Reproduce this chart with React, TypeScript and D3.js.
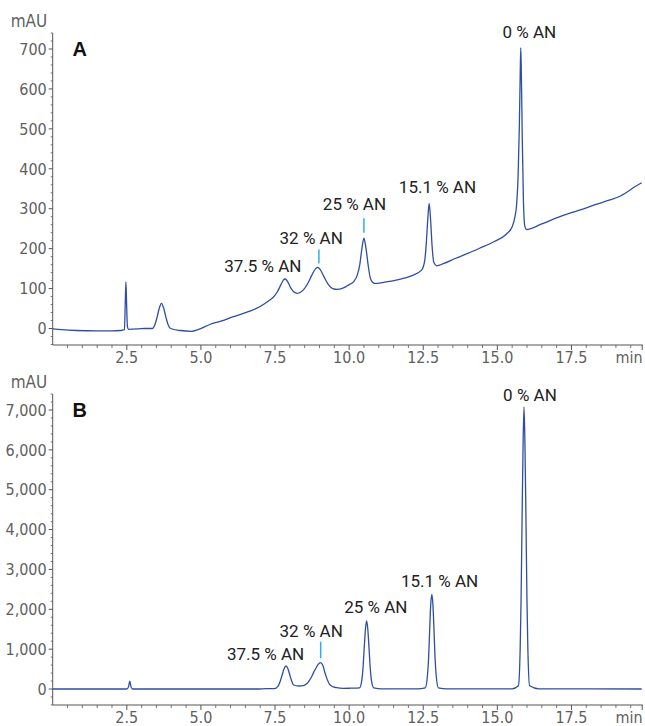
import React from "react";
import * as d3 from "d3";

// ---------- DATA ----------
// Panel A chromatogram: [time (min), absorbance (mAU)]
const traceA: [number, number][] = [
  [0.0, -1], [0.3, -3], [0.8, -5], [1.5, -6], [2.0, -6], [2.3, -5], [2.42, -3],
  [2.45, 70], [2.47, 117], [2.49, 70], [2.52, 5], [2.56, -2], [2.9, -1], [3.1, 0],
  [3.36, 0], [3.45, 10], [3.52, 28], [3.6, 52], [3.67, 63], [3.74, 52], [3.82, 28],
  [3.89, 10], [3.98, 0], [4.3, -5], [4.68, -7], [4.9, -3], [5.3, 10], [5.7, 19],
  [6.1, 30], [6.6, 42], [7.0, 55], [7.3, 70], [7.45, 79], [7.58, 92], [7.7, 110],
  [7.78, 121], [7.84, 124], [7.92, 118], [8.02, 103], [8.13, 92], [8.25, 88],
  [8.45, 96], [8.6, 112], [8.75, 135], [8.87, 150], [8.94, 153], [9.02, 148],
  [9.15, 130], [9.3, 110], [9.45, 100], [9.6, 98], [9.85, 103], [10.0, 110],
  [10.15, 117], [10.28, 135], [10.36, 160], [10.43, 200], [10.5, 226], [10.57, 200],
  [10.64, 160], [10.72, 125], [10.85, 113], [11.2, 116], [11.7, 123], [12.1, 132],
  [12.45, 147], [12.55, 170], [12.6, 210], [12.65, 270], [12.7, 313], [12.75, 270],
  [12.8, 205], [12.86, 165], [12.95, 157], [13.2, 163], [13.6, 176], [14.0, 188],
  [14.4, 201], [14.9, 218], [15.3, 236], [15.5, 255], [15.6, 282], [15.65, 310],
  [15.7, 380], [15.74, 500], [15.77, 630], [15.79, 703], [15.81, 640], [15.84, 480],
  [15.88, 320], [15.93, 255], [15.98, 248], [16.5, 262], [17.0, 277], [17.5, 290],
  [17.8, 297], [18.3, 310], [18.8, 322], [19.1, 330], [19.4, 343], [19.6, 353],
  [19.87, 365],
];

// Panel B chromatogram: [time (min), absorbance (mAU)]
const traceB: [number, number][] = [
  [0, 0], [2.5, 0], [2.56, 60], [2.6, 200], [2.64, 60], [2.7, 0], [6.9, 0],
  [7.2, 8], [7.47, 10], [7.61, 80], [7.67, 180], [7.74, 350], [7.805, 510],
  [7.87, 577], [7.935, 510], [8.0, 350], [8.07, 180], [8.13, 100], [8.3, 75],
  [8.45, 85], [8.58, 140], [8.73, 300], [8.81, 430], [8.88, 520], [8.95, 610],
  [9.03, 660], [9.11, 600], [9.18, 420], [9.25, 260], [9.33, 130], [9.45, 60],
  [9.58, 33], [9.8, 15], [10.05, 20], [10.35, 30], [10.43, 230], [10.47, 550],
  [10.51, 1040], [10.55, 1500], [10.59, 1706], [10.63, 1500], [10.67, 1040],
  [10.71, 550], [10.75, 230], [10.83, 30], [11.1, 5], [12.3, 5], [12.57, 30],
  [12.64, 320], [12.68, 760], [12.715, 1440], [12.75, 2080], [12.79, 2376],
  [12.83, 2080], [12.865, 1440], [12.9, 760], [12.94, 320], [13.01, 30],
  [13.3, 5], [15.5, 5], [15.71, 80], [15.77, 1000], [15.8, 2200], [15.835, 4300],
  [15.87, 6200], [15.9, 7080], [15.93, 6200], [15.965, 4300], [16.0, 2200],
  [16.03, 1000], [16.09, 80], [16.4, 5], [19.87, 0],
];

// Axis ticks
const xTicks = [2.5, 5.0, 7.5, 10.0, 12.5, 15.0, 17.5];
const yTicksA = [0, 100, 200, 300, 400, 500, 600, 700];
const yTicksB = [0, 1000, 2000, 3000, 4000, 5000, 6000, 7000];

// Peak labels: [text, time, value (label baseline)]
const labelsA: [string, number, number][] = [
  ["0 % AN", 16.08, 727],
  ["15.1 % AN", 12.98, 339],
  ["25 % AN", 10.18, 297],
  ["32 % AN", 8.72, 211],
  ["37.5 % AN", 7.09, 142],
];
const labelsB: [string, number, number][] = [
  ["0 % AN", 16.1, 7233],
  ["15.1 % AN", 13.05, 2566],
  ["25 % AN", 10.9, 1914],
  ["32 % AN", 8.72, 1312],
  ["37.5 % AN", 7.18, 728],
];
// Cyan marker ticks: [time, from value, to value]
const markersA: [number, number, number][] = [
  [8.98, 163, 198],
  [10.5, 240, 276],
];
const markersB: [number, number, number][] = [[9.04, 770, 1187]];

// ---------- LAYOUT ----------
const W = 645;
const H = 726;
const X0 = 52.7;
const X1 = 641.7;
const T_MAX = 19.87;

const LABEL_FONT = "'Liberation Sans Narrow', 'DejaVu Sans Condensed', 'Arial Narrow', sans-serif";
const ANN_FONT = "Roboto, 'Liberation Sans', sans-serif";
const AXIS_COLOR = "#555";
const TEXT_GRAY = "#5f5f5f";
const LINE_COLOR = "#2f4ea3";
const MARK_COLOR = "#2ab0e4";

interface PanelProps {
  trace: [number, number][];
  yTicks: number[];
  yDomain: [number, number];
  yRange: [number, number];
  axisTopY: number;
  axisBottomY: number;
  minorStep: number;
  letter: string;
  labels: [string, number, number][];
  markers: [number, number, number][];
  fmt: (v: number) => string;
}

function Panel(p: PanelProps) {
  const x = d3.scaleLinear().domain([0, T_MAX]).range([X0, X1]);
  const y = d3.scaleLinear().domain(p.yDomain).range(p.yRange);
  const line = d3
    .line<[number, number]>()
    .x((d) => x(d[0]))
    .y((d) => y(d[1]))
    .curve(d3.curveMonotoneX);

  const xMinor = d3.range(0.5, T_MAX, 0.5).filter((t) => Math.abs(t / 2.5 - Math.round(t / 2.5)) > 1e-6);
  const yMax = y.invert(p.axisTopY);
  const yMin = y.invert(p.axisBottomY);
  const step = p.minorStep;
  const yMinor = d3
    .range(Math.ceil(yMin / step) * step, yMax, step)
    .filter((v) => !p.yTicks.includes(Math.round(v)));

  return (
    <g>
      {/* axes */}
      <line x1={X0} x2={X0} y1={p.axisTopY} y2={p.axisBottomY} stroke={AXIS_COLOR} strokeWidth={1} />
      <line x1={X0} x2={X1 + 1} y1={p.axisBottomY} y2={p.axisBottomY} stroke={AXIS_COLOR} strokeWidth={1} />
      {p.yTicks.map((v) => (
        <g key={"yt" + v}>
          <line x1={X0 - 4} x2={X0} y1={y(v)} y2={y(v)} stroke={AXIS_COLOR} />
          <text
            x={X0 - 6}
            y={y(v)}
            dy="0.36em"
            textAnchor="end"
            fontFamily={LABEL_FONT}
            fontSize={16}
            fill={TEXT_GRAY}
          >
            {p.fmt(v)}
          </text>
        </g>
      ))}
      {yMinor.map((v, i) => (
        <line key={"ym" + i} x1={X0 - 2} x2={X0} y1={y(v)} y2={y(v)} stroke={AXIS_COLOR} strokeWidth={0.8} />
      ))}
      {xTicks.map((t) => (
        <g key={"xt" + t}>
          <line x1={x(t)} x2={x(t)} y1={p.axisBottomY} y2={p.axisBottomY + 5} stroke={AXIS_COLOR} />
          <text
            x={x(t)}
            y={p.axisBottomY + 18}
            textAnchor="middle"
            fontFamily={LABEL_FONT}
            fontSize={16}
            fill={TEXT_GRAY}
          >
            {t.toFixed(1)}
          </text>
        </g>
      ))}
      <line x1={X1 + 0.5} x2={X1 + 0.5} y1={p.axisBottomY} y2={p.axisBottomY + 5} stroke={AXIS_COLOR} />
      {xMinor.map((t, i) => (
        <line key={"xm" + i} x1={x(t)} x2={x(t)} y1={p.axisBottomY} y2={p.axisBottomY + 3} stroke={AXIS_COLOR} strokeWidth={0.8} />
      ))}
      <text
        x={X1 + 1}
        y={p.axisBottomY + 18}
        textAnchor="end"
        fontFamily={LABEL_FONT}
        fontSize={16}
        fill={TEXT_GRAY}
      >
        min
      </text>
      <text
        x={29}
        y={p.axisTopY - 6.5}
        textAnchor="middle"
        fontFamily={LABEL_FONT}
        fontSize={17}
        fill={TEXT_GRAY}
      >
        mAU
      </text>
      <text
        x={72.5}
        y={y(p.yTicks[p.yTicks.length - 1]) + 7}
        fontFamily="'Liberation Sans', Arial, sans-serif"
        fontWeight="bold"
        fontSize={20}
        fill="#111"
      >
        {p.letter}
      </text>

      {/* trace */}
      <path d={line(p.trace) || ""} fill="none" stroke={LINE_COLOR} strokeWidth={1.3} strokeLinejoin="round" />

      {/* markers */}
      {p.markers.map((m, i) => (
        <line key={"mk" + i} x1={x(m[0])} x2={x(m[0])} y1={y(m[1])} y2={y(m[2])} stroke={MARK_COLOR} strokeWidth={1.5} />
      ))}

      {/* labels */}
      {p.labels.map((l, i) => (
        <text
          key={"lb" + i}
          x={x(l[1])}
          y={y(l[2])}
          textAnchor="middle"
          fontFamily={ANN_FONT}
          fontSize={17}
          fill="#222"
        >
          {l[0]}
        </text>
      ))}
    </g>
  );
}

export default function App() {
  const fmtA = (v: number) => String(v);
  const fmtB = d3.format(",");
  return (
    <svg
      width={W}
      height={H}
      viewBox={`0 0 ${W} ${H}`}
      style={{ position: "absolute", left: 0, top: 0, background: "#fff" }}
    >
      <rect width={W} height={H} fill="#fff" />
      <Panel
        trace={traceA}
        yTicks={yTicksA}
        yDomain={[0, 700]}
        yRange={[328.5, 49]}
        axisTopY={33}
        axisBottomY={345}
        minorStep={20}
        letter="A"
        labels={labelsA}
        markers={markersA}
        fmt={fmtA}
      />
      <Panel
        trace={traceB}
        yTicks={yTicksB}
        yDomain={[0, 7000]}
        yRange={[689, 410]}
        axisTopY={394}
        axisBottomY={705}
        minorStep={200}
        letter="B"
        labels={labelsB}
        markers={markersB}
        fmt={fmtB}
      />
    </svg>
  );
}
